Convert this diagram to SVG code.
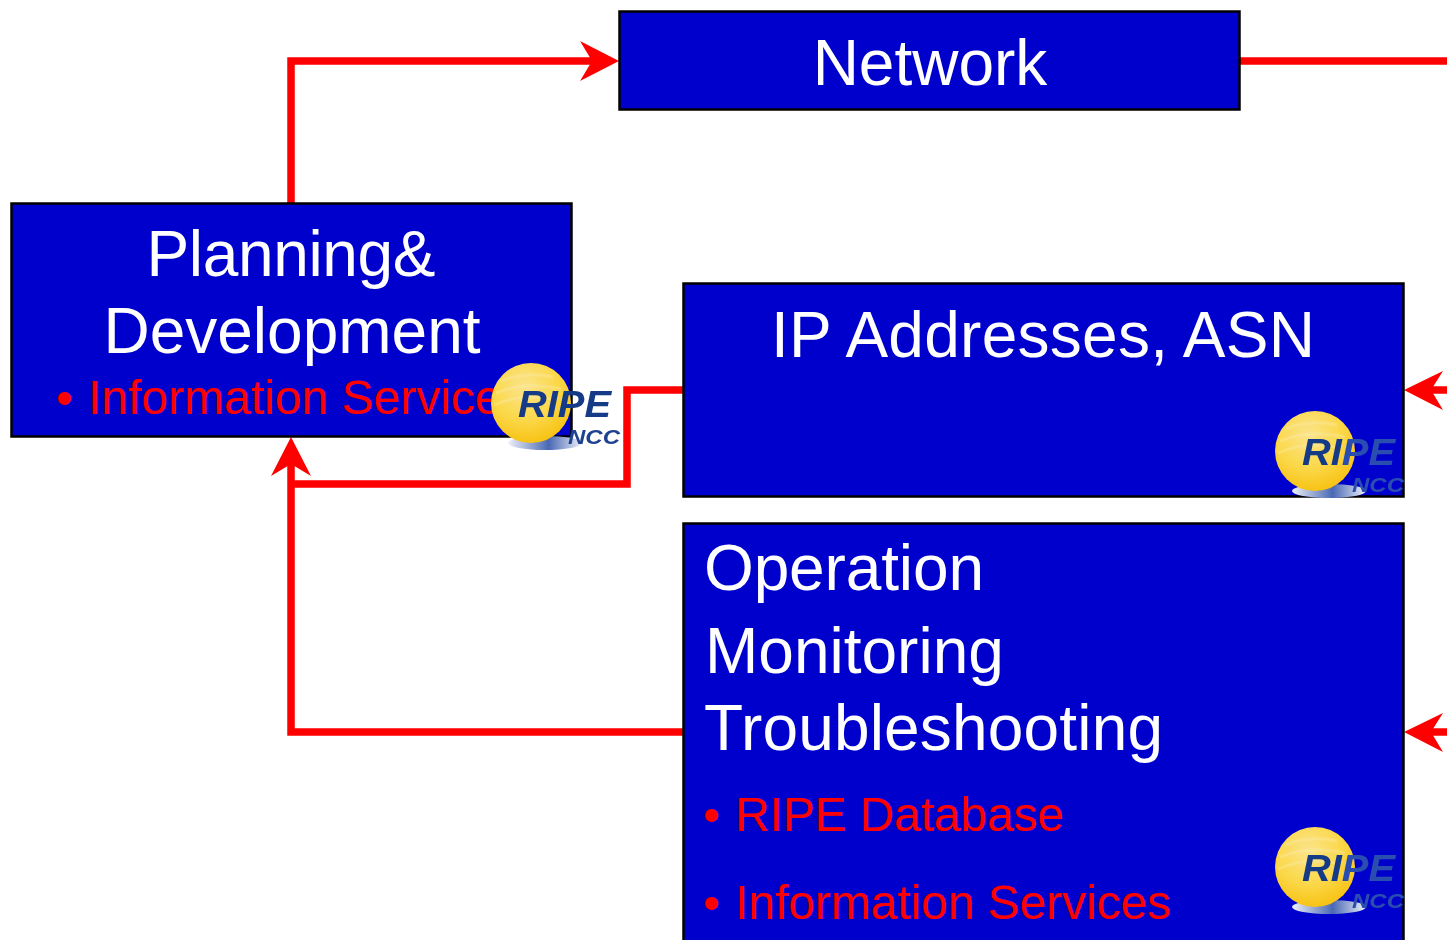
<svg xmlns="http://www.w3.org/2000/svg" xmlns:xlink="http://www.w3.org/1999/xlink" width="1447" height="940" viewBox="0 0 1447 940">
<style>
.box{fill:#0000cc;stroke:#000;stroke-width:2.500}
.t{font-family:"Liberation Sans",Arial,sans-serif;font-size:64px;fill:#fff}
.c{text-anchor:middle}
.r{font-family:"Liberation Sans",Arial,sans-serif;font-size:48px;fill:#f00}
.line{fill:none;stroke:#f00;stroke-width:7.500}
.head{fill:#f00}
.lt{font-family:"Liberation Sans",Arial,sans-serif;font-weight:700;font-style:italic}
.streak{fill:none;stroke:#fdf0b8;stroke-width:3;opacity:.3}
</style>
<defs>
<radialGradient id="ball" cx="0.42" cy="0.3" r="0.75">
<stop offset="0" stop-color="#fbe48c"/><stop offset="0.55" stop-color="#fbd84a"/><stop offset="1" stop-color="#f7bf0c"/>
</radialGradient>
<linearGradient id="sh" x1="0" x2="1" y1="0" y2="0">
<stop offset="0" stop-color="#eef1f8"/><stop offset="0.55" stop-color="#4a69b4"/><stop offset="1" stop-color="#eef1f8"/>
</linearGradient>
<filter id="soft" x="-10%" y="-10%" width="120%" height="120%"><feGaussianBlur stdDeviation="0.7"/></filter>
<g id="sphere">
<ellipse cx="14" cy="40" rx="37" ry="7" fill="url(#sh)"/>
<circle cx="0" cy="0" r="40" fill="url(#ball)"/>
<path class="streak" d="M-30 -22Q-5 -32 22 -26M-35 -10Q-5 -22 30 -14M-37 2Q-10 -10 20 -4"/>
</g>
</defs>
<rect width="1447" height="940" fill="#fff"/>

<g id="connectors">
<path class="line" d="M291 203V61H595"/>
<path class="head" d="M619 61L580 41L592 61L580 81Z"/>
<path class="line" d="M1240 61H1447"/>
<path class="line" d="M683 390H627V484H291"/>
<path class="line" d="M683 732H291V460"/>
<path class="head" d="M291 437L271 476L291 464L311 476Z"/>
<path class="line" d="M1447 390H1428"/>
<path class="head" d="M1404 390L1443 371L1431 390L1443 410Z"/>
<path class="line" d="M1447 732H1428"/>
<path class="head" d="M1404 732L1443 713L1431 732L1443 752Z"/>
</g>

<g id="network">
<rect class="box" x="619.500" y="11.500" width="620" height="98"/>
<text class="t c" x="930" y="85">Network</text>
</g>

<g id="planning">
<rect class="box" x="11.500" y="203.500" width="560" height="233"/>
<text class="t c" x="291" y="276" textLength="289">Planning&amp;</text>
<text class="t c" x="292" y="353">Development</text>
<text class="r" x="56" y="414">•</text>
<text class="r" x="88" y="414">Information Service</text>
<g filter="url(#soft)">
<use href="#sphere" x="531" y="403"/>
<text class="lt" x="518" y="417" font-size="37" fill="#163a86" textLength="93" lengthAdjust="spacingAndGlyphs">RIPE</text>
<text class="lt" x="568" y="444" font-size="21" fill="#1f4290" textLength="52" lengthAdjust="spacingAndGlyphs">NCC</text>
</g>
</g>

<g id="ip-addresses">
<rect class="box" x="683.500" y="283.500" width="720" height="213"/>
<text class="t c" x="1043" y="357" textLength="544">IP Addresses, ASN</text>
<g filter="url(#soft)">
<use href="#sphere" x="1315" y="451"/>
<text class="lt" x="1302" y="465" font-size="37" fill="#163a86" textLength="93" lengthAdjust="spacingAndGlyphs">RI<tspan fill="#2b4db0">PE</tspan></text>
<text class="lt" x="1352" y="492" font-size="21" fill="#2b4db0" textLength="52" lengthAdjust="spacingAndGlyphs">NCC</text>
</g>
</g>

<g id="operation">
<rect class="box" x="683.500" y="523.500" width="720" height="420"/>
<text class="t" x="704" y="590" textLength="280">Operation</text>
<text class="t" x="705" y="673">Monitoring</text>
<text class="t" x="704" y="750" textLength="459">Troubleshooting</text>
<text class="r" x="703" y="831">•</text>
<text class="r" x="735" y="831" textLength="329">RIPE Database</text>
<text class="r" x="703" y="919">•</text>
<text class="r" x="735" y="919" textLength="436">Information Services</text>
<g filter="url(#soft)">
<use href="#sphere" x="1315" y="867"/>
<text class="lt" x="1302" y="881" font-size="37" fill="#163a86" textLength="93" lengthAdjust="spacingAndGlyphs">RI<tspan fill="#2b4db0">PE</tspan></text>
<text class="lt" x="1352" y="908" font-size="21" fill="#2b4db0" textLength="52" lengthAdjust="spacingAndGlyphs">NCC</text>
</g>
</g>
</svg>
